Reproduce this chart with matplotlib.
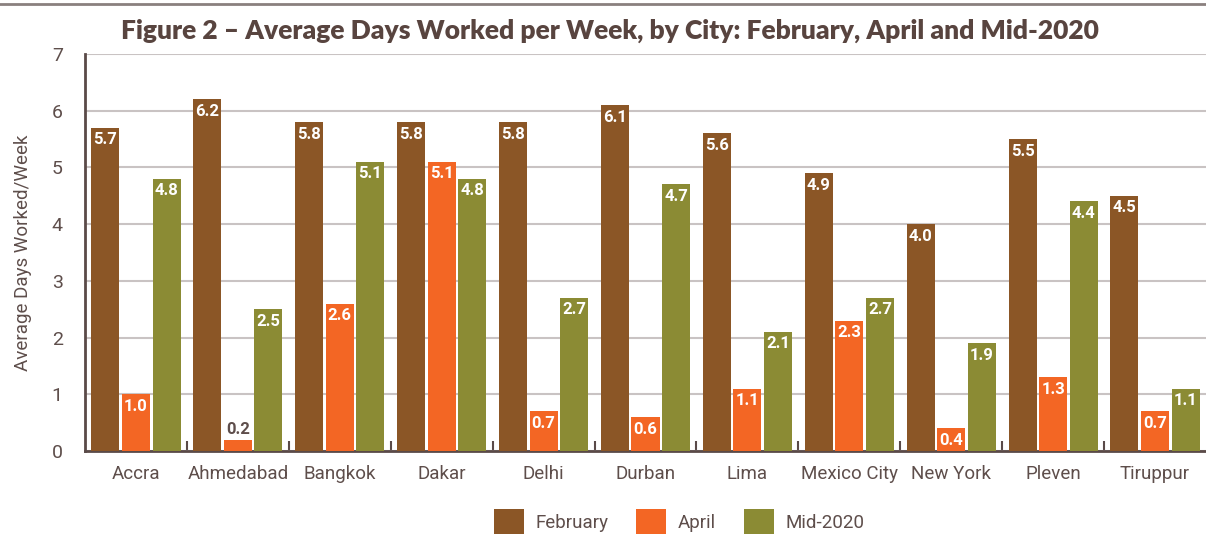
import matplotlib.pyplot as plt
import numpy as np
from matplotlib.lines import Line2D

cities = ["Accra", "Ahmedabad", "Bangkok", "Dakar", "Delhi", "Durban",
          "Lima", "Mexico City", "New York", "Pleven", "Tiruppur"]
february = [5.7, 6.2, 5.8, 5.8, 5.8, 6.1, 5.6, 4.9, 4.0, 5.5, 4.5]
april = [1.0, 0.2, 2.6, 5.1, 0.7, 0.6, 1.1, 2.3, 0.4, 1.3, 0.7]
mid_2020 = [4.8, 2.5, 5.1, 4.8, 2.7, 4.7, 2.1, 2.7, 1.9, 4.4, 1.1]

series = [("February", february, "#8b5626"),
          ("April", april, "#f36624"),
          ("Mid-2020", mid_2020, "#8b8b34")]

txt = "#5e4e4b"
plt.rcParams["font.family"] = ["Roboto", "DejaVu Sans"]

fig = plt.figure(figsize=(12.06, 5.35), dpi=100)
ax = fig.add_axes([85 / 1206, 1 - 451 / 535, 1 - 85 / 1206, (451 - 54) / 535])

x = np.arange(len(cities))
w = 0.275
step = 0.3
for i, (name, vals, col) in enumerate(series):
    pos = x + (i - 1) * step
    ax.bar(pos, vals, width=w, color=col, label=name, zorder=3)
    for p, v in zip(pos, vals):
        if v < 0.3:
            ax.text(p, v + 0.05, f"{v:.1f}", ha="center", va="bottom",
                    color=txt, fontsize=12, fontweight="bold", zorder=4)
        else:
            ax.text(p, v - 0.08, f"{v:.1f}", ha="center", va="top",
                    color="white", fontsize=12, fontweight="bold", zorder=4)

ax.set_xlim(-0.5, len(cities) - 0.5)
ax.set_ylim(0, 7)
ax.set_yticks(range(0, 8))
ax.yaxis.grid(True, color="#c9c3c3", linewidth=1.5, zorder=0)
ax.tick_params(axis="y", length=0, labelsize=14, labelcolor=txt, pad=16)
ax.set_xticks(x)
ax.set_xticklabels(cities)
ax.tick_params(axis="x", length=0, labelsize=13.5, labelcolor=txt, pad=10)
ax.set_xticks(np.arange(0.5, len(cities) - 1, 1), minor=True)
ax.tick_params(axis="x", which="minor", direction="in", length=7,
               width=1.5, color="#5a4a48")
for s in ["top", "right"]:
    ax.spines[s].set_visible(False)
for s in ["left", "bottom"]:
    ax.spines[s].set_color("#5a4a48")
    ax.spines[s].set_linewidth(2)
ax.set_ylabel("Average Days Worked/Week", fontsize=13.5, color=txt, labelpad=14)

# title band
fig.add_artist(Line2D([0, 1], [1 - 3.5 / 535] * 2, color="#8a807e",
                      linewidth=2, transform=fig.transFigure))
fig.text(0.506, 1 - 31 / 535, "Figure 2 \u2013 Average Days Worked per Week, by City: February, April and Mid-2020",
         ha="center", va="center", fontsize=19, fontweight="heavy",
         color="#58443f", family=["Lato", "DejaVu Sans"])

fig.legend(loc="lower center", bbox_to_anchor=(0.563, -0.03), ncol=3,
           frameon=False, fontsize=13.5, labelcolor=txt, handlelength=1.6,
           handleheight=1.7, columnspacing=1.5, handletextpad=0.6)

fig.savefig("out.png", dpi=100)
